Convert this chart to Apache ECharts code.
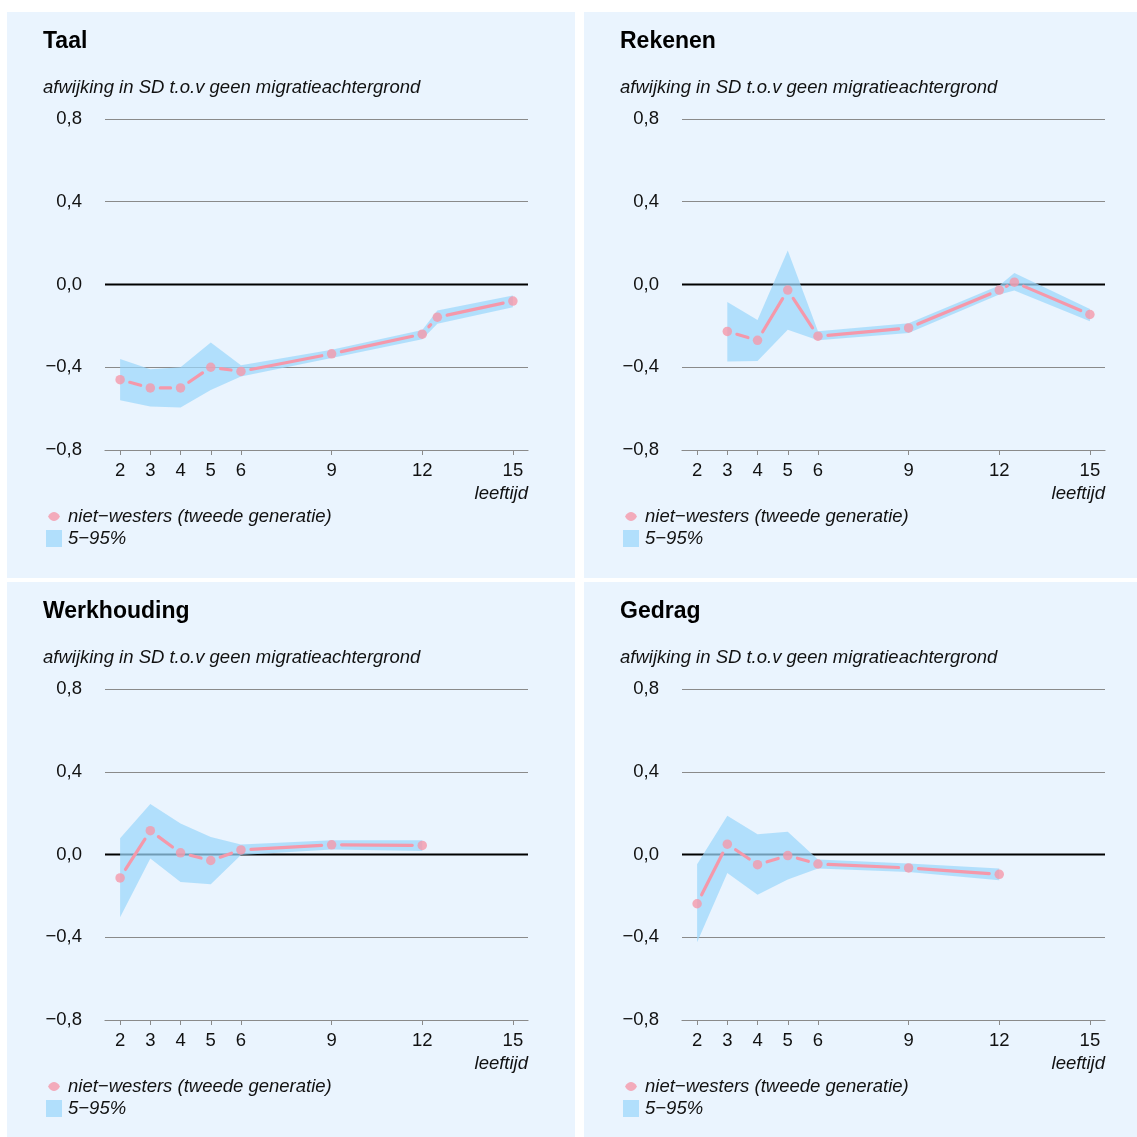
<!DOCTYPE html>
<html>
<head>
<meta charset="utf-8">
<script src="https://cdn.jsdelivr.net/npm/echarts@6/dist/echarts.min.js"></script>
<style>html,body{margin:0;padding:0;background:#fff}#c{width:1137px;height:1137px}</style>
</head>
<body>
<div id="c"></div>
<script>
// ---- data ----
const panelTitles = ['Taal', 'Rekenen', 'Werkhouding', 'Gedrag'];
const subtitle = 'afwijking in SD t.o.v geen migratieachtergrond';
const xAxisName = 'leeftijd';
const seriesName = 'niet\u2212westers (tweede generatie)';
const bandName = '5\u221295%';
const xTicks = [2, 3, 4, 5, 6, 9, 12, 15];
const yTicks = [-0.8, -0.4, 0.0, 0.4, 0.8];

const taalX    = [2, 3, 4, 5, 6, 9, 12, 12.5, 15];
const taalMean = [-0.46, -0.50, -0.50, -0.40, -0.42, -0.335, -0.24, -0.158, -0.08];
const taalLo   = [-0.56, -0.59, -0.595, -0.51, -0.445, -0.355, -0.265, -0.19, -0.11];
const taalHi   = [-0.36, -0.41, -0.40, -0.28, -0.39, -0.316, -0.22, -0.126, -0.053];

const rekX    = [3, 4, 5, 6, 9, 12, 12.5, 15];
const rekMean = [-0.227, -0.27, -0.027, -0.25, -0.21, -0.027, 0.011, -0.145];
const rekLo   = [-0.372, -0.37, -0.219, -0.27, -0.235, -0.048, -0.029, -0.178];
const rekHi   = [-0.085, -0.171, 0.164, -0.226, -0.187, -0.005, 0.055, -0.118];

const werkX    = [2, 3, 4, 5, 6, 9, 12];
const werkMean = [-0.113, 0.115, 0.008, -0.029, 0.022, 0.047, 0.044];
const werkLo   = [-0.303, -0.019, -0.133, -0.144, -0.003, 0.024, 0.017];
const werkHi   = [0.078, 0.244, 0.15, 0.085, 0.048, 0.069, 0.069];

const gedX    = [2, 3, 4, 5, 6, 9, 12];
const gedMean = [-0.238, 0.05, -0.049, -0.005, -0.046, -0.065, -0.096];
const gedLo   = [-0.424, -0.089, -0.194, -0.121, -0.068, -0.084, -0.125];
const gedHi   = [-0.047, 0.187, 0.098, 0.11, -0.024, -0.044, -0.068];

// ---- layout / style ----
const FONT = "'Liberation Sans', Arial, Helvetica, sans-serif";
const FS = 18.5;
const BG = '#eaf4fe';
const BAND = 'rgba(155,215,251,0.72)';
const PINK = '#f598aa';
const GRIDC = '#8a8a8a';

const panels = [
  {title: panelTitles[0], xs: taalX, mean: taalMean, lo: taalLo, hi: taalHi, ox: 0, oy: 0},
  {title: panelTitles[1], xs: rekX, mean: rekMean, lo: rekLo, hi: rekHi, ox: 577, oy: 0},
  {title: panelTitles[2], xs: werkX, mean: werkMean, lo: werkLo, hi: werkHi, ox: 0, oy: 570},
  {title: panelTitles[3], xs: gedX, mean: gedMean, lo: gedLo, hi: gedHi, ox: 577, oy: 570}
];

function fmtY(v) {
  const r = Math.round(v * 10) / 10;
  const s = Math.abs(r).toFixed(1).replace('.', ',');
  return (r < 0 ? '\u2212' : '') + s;
}

const option = {
  animation: false,
  backgroundColor: '#ffffff',
  textStyle: {fontFamily: FONT},
  graphic: [
    {type: 'rect', shape: {x: 7, y: 12, width: 568, height: 566}, style: {fill: BG}, z: -10, silent: true},
    {type: 'rect', shape: {x: 584, y: 12, width: 553, height: 566}, style: {fill: BG}, z: -10, silent: true},
    {type: 'rect', shape: {x: 7, y: 582, width: 568, height: 555}, style: {fill: BG}, z: -10, silent: true},
    {type: 'rect', shape: {x: 584, y: 582, width: 553, height: 555}, style: {fill: BG}, z: -10, silent: true}
  ],
  title: [], legend: [], grid: [], xAxis: [], yAxis: [], series: []
};

panels.forEach((p, k) => {
  option.title.push({text: p.title, left: 43 + p.ox, top: 30 + p.oy, padding: 0,
    textStyle: {fontFamily: FONT, fontSize: 23, fontWeight: 'bold', color: '#000'}});
  option.title.push({text: subtitle, left: 43 + p.ox, top: 78 + p.oy, padding: 0,
    textStyle: {fontFamily: FONT, fontSize: FS, fontStyle: 'italic', fontWeight: 'normal', color: '#111'}});
  option.title.push({text: xAxisName, right: 1137 - 528 - p.ox, top: 484 + p.oy, padding: 0,
    textStyle: {fontFamily: FONT, fontSize: FS, fontStyle: 'italic', fontWeight: 'normal', color: '#111'}});

  option.legend.push({left: 48 + p.ox, top: 507 + p.oy, padding: 0, orient: 'vertical',
    itemWidth: 16, itemHeight: 9, selectedMode: false,
    textStyle: {fontFamily: FONT, fontSize: FS, fontStyle: 'italic', color: '#111', padding: [0, 0, 0, 1]},
    data: [{name: seriesName, icon: 'path://M0,4.5 C2,1 4,0 6,0 C8,0 10,1 12,4.5 C10,8 8,9 6,9 C4,9 2,8 0,4.5 Z', itemStyle: {color: PINK}}]});
  option.legend.push({left: 46 + p.ox, top: 529 + p.oy, padding: 0, orient: 'vertical',
    itemWidth: 16, itemHeight: 17, selectedMode: false,
    textStyle: {fontFamily: FONT, fontSize: FS, fontStyle: 'italic', color: '#111', padding: [0, 0, 0, 1]},
    data: [{name: bandName, icon: 'rect', itemStyle: {color: BAND}}]});

  option.grid.push({left: 105 + p.ox, top: 119 + p.oy, width: 423, height: 331});
  option.xAxis.push({type: 'value', gridIndex: k, min: 1.5, max: 15.5,
    axisLine: {show: true, onZero: false, lineStyle: {color: GRIDC, width: 1.2}},
    axisTick: {show: true, customValues: xTicks, length: 5, lineStyle: {color: GRIDC}},
    axisLabel: {customValues: xTicks, margin: 11, fontSize: FS, color: '#111', fontFamily: FONT},
    splitLine: {show: false}});
  option.yAxis.push({type: 'value', gridIndex: k, min: -0.8, max: 0.8, interval: 0.4,
    axisLine: {show: false}, axisTick: {show: false},
    axisLabel: {margin: 23, fontSize: FS, color: '#111', fontFamily: FONT, formatter: fmtY},
    splitLine: {show: true, lineStyle: {color: GRIDC, width: 1.2}}});

  // zero line
  option.series.push({type: 'line', xAxisIndex: k, yAxisIndex: k, silent: true, symbol: 'none', z: 1,
    data: [[1.5, 0], [15.5, 0]], lineStyle: {color: '#000', width: 2.2}});

  // 5-95% band
  option.series.push({type: 'custom', name: bandName, xAxisIndex: k, yAxisIndex: k, z: 2, silent: true,
    itemStyle: {color: BAND},
    data: p.xs.map((x, i) => [x, p.lo[i], p.hi[i]]),
    encode: {x: 0, y: [1, 2]},
    renderItem: function (params, api) {
      if (params.dataIndex !== 0) return null;
      const pts = [];
      for (let i = 0; i < p.xs.length; i++) pts.push(api.coord([p.xs[i], p.hi[i]]));
      for (let i = p.xs.length - 1; i >= 0; i--) pts.push(api.coord([p.xs[i], p.lo[i]]));
      return {type: 'polygon', shape: {points: pts}, style: {fill: BAND}};
    }});

  // connecting segments with gaps at the points
  option.series.push({type: 'custom', xAxisIndex: k, yAxisIndex: k, z: 3, silent: true,
    data: p.xs.slice(0, -1).map((x, i) => [x, p.mean[i]]),
    encode: {x: 0, y: 1},
    renderItem: function (params, api) {
      const i = params.dataIndex;
      const a = api.coord([p.xs[i], p.mean[i]]);
      const b = api.coord([p.xs[i + 1], p.mean[i + 1]]);
      const dx = b[0] - a[0], dy = b[1] - a[1];
      const d = Math.sqrt(dx * dx + dy * dy);
      const gap = 10;
      const ux = dx / d, uy = dy / d;
      if (d <= 2 * gap + 0.5) {
        const mx = (a[0] + b[0]) / 2, my = (a[1] + b[1]) / 2;
        return {type: 'line', shape: {x1: mx - ux * 0.5, y1: my - uy * 0.5, x2: mx + ux * 0.5, y2: my + uy * 0.5},
          style: {stroke: PINK, lineWidth: 3.2, lineCap: 'round'}};
      }
      return {type: 'line', shape: {x1: a[0] + ux * gap, y1: a[1] + uy * gap, x2: b[0] - ux * gap, y2: b[1] - uy * gap},
        style: {stroke: PINK, lineWidth: 3.2, lineCap: 'round'}};
    }});

  // points
  option.series.push({type: 'scatter', name: seriesName, xAxisIndex: k, yAxisIndex: k, z: 4, silent: true,
    symbol: 'circle', symbolSize: 9.5, itemStyle: {color: PINK},
    data: p.xs.map((x, i) => [x, p.mean[i]])});
});

const chart = echarts.init(document.getElementById('c'), null, {renderer: 'canvas'});
chart.setOption(option);
</script>
</body>
</html>
